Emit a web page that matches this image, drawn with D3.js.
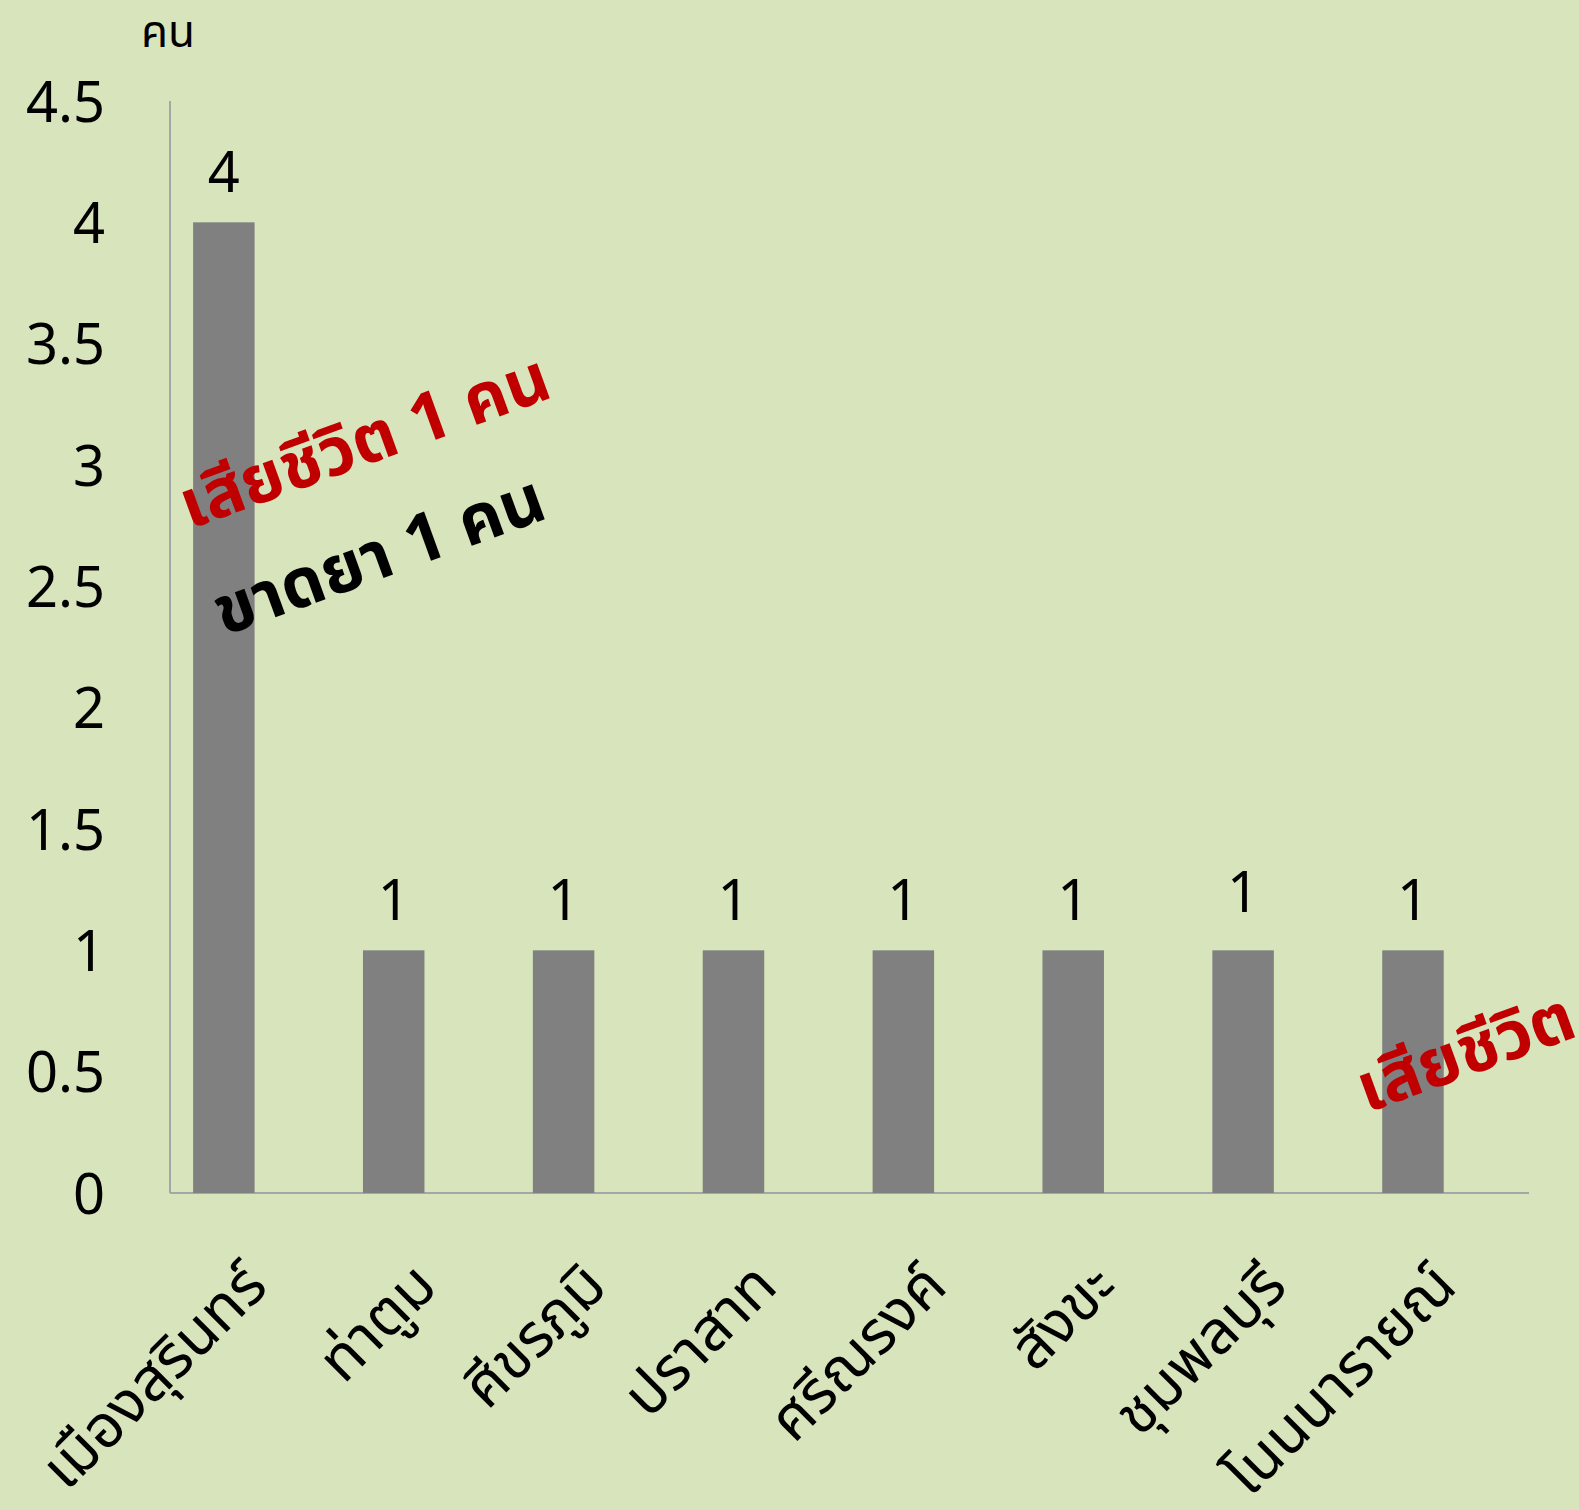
<!DOCTYPE html>
<html><head><meta charset="utf-8">
<script src="https://cdn.jsdelivr.net/npm/d3@7"></script>
<style>
html,body{margin:0;padding:0;background:#d8e4bc;overflow:hidden;width:1579px;height:1510px;}
svg{display:block;font-family:"Noto Sans Thai","Noto Sans","Liberation Sans",sans-serif;}
</style></head><body>
<svg id="chart" width="1579" height="1510"></svg>
<script>
const categories = ["เมืองสุรินทร์","ท่าตูม","ศีขรภูมิ","ปราสาท","ศรีณรงค์","สังขะ","ชุมพลบุรี","โนนนารายณ์"];
const values = [4,1,1,1,1,1,1,1];
const yTicks = [0,0.5,1,1.5,2,2.5,3,3.5,4,4.5];
const yTitle = "คน";
const notes = [
  {text:"เสียชีวิต 1 คน", color:"#c00000", cat:0, v:2.735, dx:-34},
  {text:"ขาดยา 1 คน", color:"#000000", cat:0, v:2.295, dx:0},
  {text:"เสียชีวิต", color:"#c00000", cat:7, v:0.33, dx:-46}
];

const svg = d3.select("#chart");
const W = 1579, H = 1510;
svg.append("rect").attr("width",W).attr("height",H).attr("fill","#d8e4bc");

const x0 = 170, x1 = 1529, yTop = 101, yBot = 1193;
const x = d3.scaleBand().domain(categories).range([x0,x1]).paddingInner(0).paddingOuter(0);
const y = d3.scaleLinear().domain([0,4.5]).range([yBot,yTop]);
const step = x.step();
const barOff = step*0.136, barW = step*0.362;
const bc = c => x(c)+barOff+barW/2;

// axes lines
svg.append("line").attr("x1",x0).attr("x2",x0).attr("y1",yTop).attr("y2",yBot)
  .attr("stroke","#a6a6a6").attr("stroke-width",2);
svg.append("line").attr("x1",x0).attr("x2",x1).attr("y1",yBot).attr("y2",yBot)
  .attr("stroke","#a6a6a6").attr("stroke-width",2);

// y tick labels
const yAxis = d3.axisLeft(y).tickValues(yTicks).tickSize(0).tickPadding(0).tickFormat(d=>String(d));
const ga = svg.append("g").attr("transform",`translate(105,0)`).call(yAxis);
ga.select(".domain").remove();
ga.selectAll("text").attr("font-size",56).attr("fill","#000").attr("font-family","'Noto Sans',sans-serif").attr("dy","0.36em");

// title
svg.append("text").attr("x",141).attr("y",47).attr("font-size",44).attr("fill","#000").text(yTitle);

// bars
svg.selectAll("rect.bar").data(categories).join("rect").attr("class","bar")
  .attr("x",c=>x(c)+barOff).attr("width",barW)
  .attr("y",(c,i)=>y(values[i])).attr("height",(c,i)=>yBot-y(values[i]))
  .attr("fill","#808080");

// value labels
svg.selectAll("text.val").data(categories).join("text").attr("class","val")
  .attr("x",c=>bc(c)).attr("y",(c,i)=>y(values[i])-30 - (i===6?8:0))
  .attr("text-anchor","middle").attr("font-size",56).attr("fill","#000")
  .attr("font-family","'Noto Sans',sans-serif")
  .text((c,i)=>values[i]);

// x labels
svg.selectAll("text.xl").data(categories).join("text").attr("class","xl")
  .attr("transform",c=>`translate(${bc(c)+46},${yBot+96}) rotate(-45)`)
  .attr("text-anchor","end").attr("font-size",60).attr("fill","#000")
  .text(c=>c);

// annotations
svg.selectAll("text.note").data(notes).join("text").attr("class","note")
  .attr("transform",d=>`translate(${bc(categories[d.cat])+d.dx},${y(d.v)}) rotate(-20)`)
  .attr("font-size",68).attr("font-weight","bold").attr("fill",d=>d.color)
  .text(d=>d.text);
</script>
</body></html>
